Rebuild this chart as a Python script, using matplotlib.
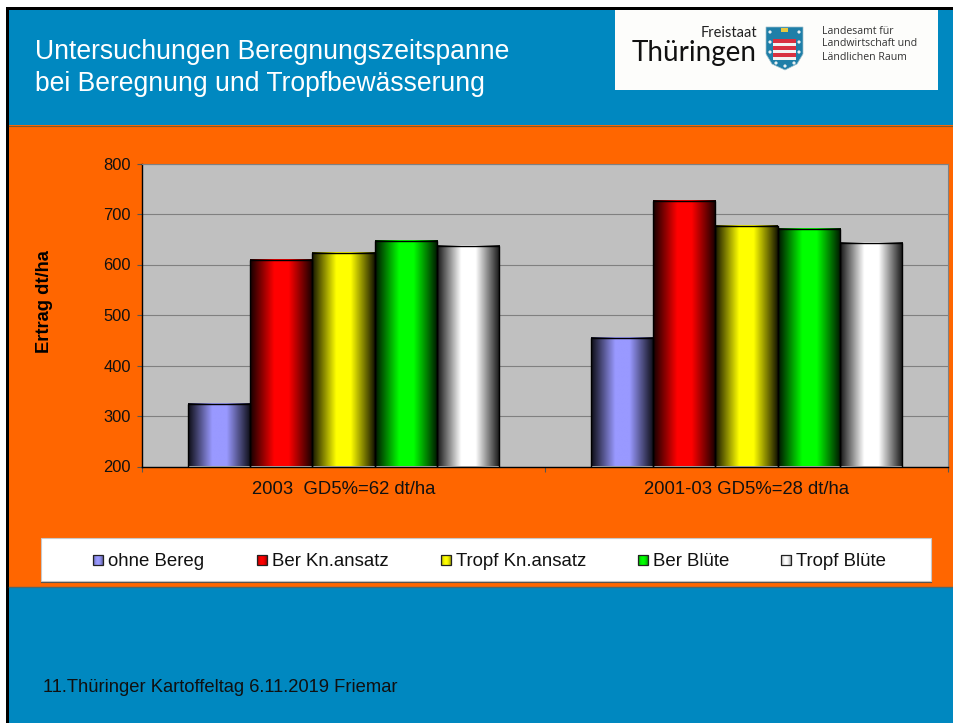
"""Slide with the irrigation yield bar chart (Thueringen potato day)."""
import matplotlib
matplotlib.use("Agg")
import matplotlib.pyplot as plt
import numpy as np
from matplotlib.patches import Circle, Polygon, Rectangle

plt.rcParams["font.family"] = ["Liberation Sans", "DejaVu Sans"]

W, H = 954, 723
BLUE = "#0088c0"
ORANGE = "#ff6600"

categories = ["2003  GD5%=62 dt/ha", "2001-03 GD5%=28 dt/ha"]
series = ["ohne Bereg", "Ber Kn.ansatz", "Tropf Kn.ansatz", "Ber Blüte", "Tropf Blüte"]
ohne_bereg = [324, 454]
ber_knansatz = [609, 726]
tropf_knansatz = [622, 677]
ber_bluete = [646, 671]
tropf_bluete = [637, 642]
values = [ohne_bereg, ber_knansatz, tropf_knansatz, ber_bluete, tropf_bluete]
colors = ["#9999ff", "#ff0000", "#ffff00", "#00ff00", "#ffffff"]
y_ticks = [200, 300, 400, 500, 600, 700, 800]
legend_x = [93, 257, 441, 638, 781]


def px_axes(fig, x0, y0, x1, y1):
    return fig.add_axes([x0 / W, 1 - y1 / H, (x1 - x0) / W, (y1 - y0) / H])


def gradient(color, edge=0.08):
    # dark at the bar edges, full colour in the middle
    rgb = np.array(matplotlib.colors.to_rgb(color))
    u = np.abs(np.linspace(-1, 1, 128))
    t = np.clip((1 - u) * 1.3, 0, 1) * (1 - edge) + edge
    return (t[:, None] * rgb)[None, :, :]


def legend_swatch(color):
    # small key, nearly flat with only slightly dark sides
    rgb = np.array(matplotlib.colors.to_rgb(color))
    u = np.abs(np.linspace(-1, 1, 16))
    t = 1 - 0.35 * u ** 2
    return (t[:, None] * rgb)[None, :, :]


fig = plt.figure(figsize=(W / 100, H / 100), dpi=100, facecolor="white")

# slide background in pixel coordinates
bg = fig.add_axes([0, 0, 1, 1])
bg.set_xlim(0, W)
bg.set_ylim(H, 0)
bg.axis("off")
bg.add_patch(Rectangle((6, 7), W - 6, H - 7, fc="black", ec="none"))
bg.add_patch(Rectangle((9, 10), W - 9, H - 10, fc=BLUE, ec="none"))
bg.add_patch(Rectangle((9, 125), W - 9, 462, fc=ORANGE, ec="none"))
bg.plot([9, W], [125.5, 125.5], color="#7a5a30", lw=0.8)
bg.plot([9, W], [587, 587], color="#4a6a70", lw=1)
bg.text(35, 52, "Untersuchungen Beregnungszeitspanne", color="white",
        fontsize=19.1, va="center")
bg.text(35, 84, "bei Beregnung und Tropfbewässerung", color="white",
        fontsize=19.1, va="center")
bg.text(43, 688, "11.Thüringer Kartoffeltag 6.11.2019 Friemar", color="#101010",
        fontsize=13.2, va="center")

# logo
bg.add_patch(Rectangle((615, 10), 323, 80, fc="#fdfdfb", ec="none"))
bg.text(757, 33, "Freistaat", fontsize=10.5, ha="right", va="center", color="#222222",
        family="Lato")
bg.text(757, 53, "Thüringen", fontsize=20, ha="right", va="center", color="#111111",
        family="Lato")
bg.add_patch(Polygon([(766, 27), (803, 27), (803, 54), (797, 64), (785, 70),
                      (772, 64), (766, 54)], fc="#1f7fa8", ec="#9fc0cc", lw=0.5))
for yy in [39, 46, 53]:
    bg.add_patch(Rectangle((773, yy), 23, 3.5, fc="#d83040", ec="none"))
    bg.add_patch(Rectangle((773, yy + 3.5), 23, 3, fc="#f2f2f2", ec="none"))
bg.add_patch(Rectangle((781, 28), 7, 4, fc="#e8c840", ec="none"))
for cx, cy in [(770, 32), (799, 32), (770, 42), (799, 42), (770, 52), (799, 52),
               (776, 63), (785, 66), (794, 63)]:
    bg.add_patch(Circle((cx, cy), 1.6, fc="#e8f0f2", ec="none"))
bg.text(822, 31, "Landesamt für", fontsize=7.6, va="center", color="#333333", family="Open Sans")
bg.text(822, 44, "Landwirtschaft und", fontsize=7.6, va="center", color="#333333", family="Open Sans")
bg.text(822, 58, "Ländlichen Raum", fontsize=7.6, va="center", color="#333333", family="Open Sans")

# legend box
bg.add_patch(Rectangle((41, 538), 890, 43, fc="white", ec="#c8c8c8", lw=0.8))
bg.plot([41, 931], [581.5, 581.5], color="#555555", lw=0.8)
for x, name, c in zip(legend_x, series, colors):
    bg.imshow(legend_swatch(c), extent=(x, x + 10, 565, 555), aspect="auto", zorder=3)
    bg.add_patch(Rectangle((x, 555), 10, 10, fc="none", ec="#222222", lw=0.9, zorder=4))
    bg.text(x + 15, 561.5, name, fontsize=13.4, va="center", color="#111111", zorder=4)
bg.set_xlim(0, W)
bg.set_ylim(H, 0)

# chart
ax = px_axes(fig, 142, 163.5, 948, 466.5)
ax.set_facecolor("#c0c0c0")
ax.set_axisbelow(True)
ax.grid(axis="y", color="#808080", lw=0.8)
width = 0.1543
x = np.arange(len(categories))
for i, (vals, c) in enumerate(zip(values, colors)):
    bars = ax.bar(x + (i - 2) * width, vals, width, bottom=0, color="none",
                  edgecolor="black", lw=1.0, zorder=3)
    for bar in bars:
        x0, w, h = bar.get_x(), bar.get_width(), bar.get_height()
        ax.imshow(gradient(c), extent=(x0, x0 + w, 0, h), aspect="auto", zorder=2,
                  interpolation="bilinear")
ax.set_xlim(-0.5, 1.5)
ax.set_ylim(200, 800)
ax.set_xticks(x)
ax.set_xticklabels(categories, fontsize=13.3, color="#111111")
ax.set_yticks(y_ticks)
ax.tick_params(axis="y", labelsize=11.9, length=3.6, width=0.8, color="#555555", pad=4.4,
               labelcolor="#111111")
ax.tick_params(axis="x", length=0, pad=10.5)
# category separators below the axis
ax.set_xticks([-0.5, 0.5, 1.5], minor=True)
ax.tick_params(axis="x", which="minor", length=3.6, width=0.8, color="#555555")
for side in ("top", "right"):
    ax.spines[side].set_color("#808080")
    ax.spines[side].set_linewidth(0.8)
for side in ("left", "bottom"):
    ax.spines[side].set_color("black")
    ax.spines[side].set_linewidth(1)
bg.text(45, 302, "Ertrag dt/ha", fontsize=13.2, fontweight="bold", color="black",
        rotation=90, ha="center", va="center")

fig.savefig("out.png", dpi=100)
